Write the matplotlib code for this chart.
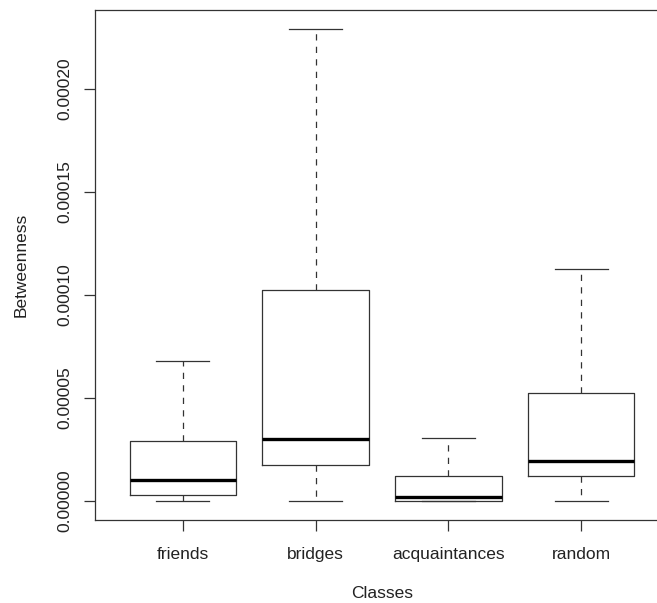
import matplotlib
matplotlib.use("Agg")
import matplotlib.pyplot as plt

plt.rcParams['font.family'] = ['Liberation Sans', 'DejaVu Sans']

# five-number summaries per class
classes = ["friends", "bridges", "acquaintances", "random"]
lower_whisker = [0.0, 0.0, 0.0, 0.0]
q1 = [0.0000029, 0.0000175, 0.0, 0.0000121]
median = [0.0000102, 0.0000301, 0.0000019, 0.0000194]
q3 = [0.0000291, 0.0001024, 0.0000121, 0.0000524]
upper_whisker = [0.0000680, 0.0002291, 0.0000306, 0.0001126]

yticks = [0.0, 0.00005, 0.00010, 0.00015, 0.00020]
ytick_labels = ["0.00000", "0.00005", "0.00010", "0.00015", "0.00020"]

stats = []
for i, name in enumerate(classes):
    stats.append({
        "label": name,
        "whislo": lower_whisker[i],
        "q1": q1[i],
        "med": median[i],
        "q3": q3[i],
        "whishi": upper_whisker[i],
        "fliers": [],
    })

W, H = 657, 603
fig = plt.figure(figsize=(W / 100, H / 100), dpi=100)
# frame runs past the right edge of the figure, like the R device output
left, right, top, bottom = 95, 669, 10, 519.5
ax = fig.add_axes([left / W, 1 - bottom / H, (right - left) / W, (bottom - top) / H])

lw = 0.9
ink = "#333333"
ax.bxp(stats, positions=range(1, 5), widths=0.8, showfliers=False,
       boxprops=dict(color=ink, linewidth=lw),
       medianprops=dict(color="black", linewidth=2.4, solid_capstyle="butt"),
       whiskerprops=dict(color=ink, linewidth=lw, linestyle=(0, (5, 5))),
       capprops=dict(color=ink, linewidth=lw),
       capwidths=0.4)

# R-style limits: 4% padding around the data range
ymax = max(upper_whisker)
pad = 0.04 * ymax
ax.set_xlim(0.34, 4.66)
ax.set_ylim(-pad, ymax + pad)

ax.set_yticks(yticks)
ax.set_yticklabels(ytick_labels, rotation=90, va="center", fontsize=12.5, color="#222222")
ax.set_xticks(range(1, 5))
ax.set_xticklabels(classes, fontsize=12.5, color="#222222")
ax.tick_params(axis="both", direction="out", length=8, width=lw, color=ink)
ax.tick_params(axis="y", pad=8)
ax.tick_params(axis="x", pad=12)

for s in ax.spines.values():
    s.set_linewidth(lw)
    s.set_color(ink)

ax.set_xlabel("Classes", fontsize=12.5, labelpad=17, color="#222222")
ax.set_ylabel("Betweenness", fontsize=12.5, labelpad=21, color="#222222")

fig.savefig("out.png", dpi=100)
